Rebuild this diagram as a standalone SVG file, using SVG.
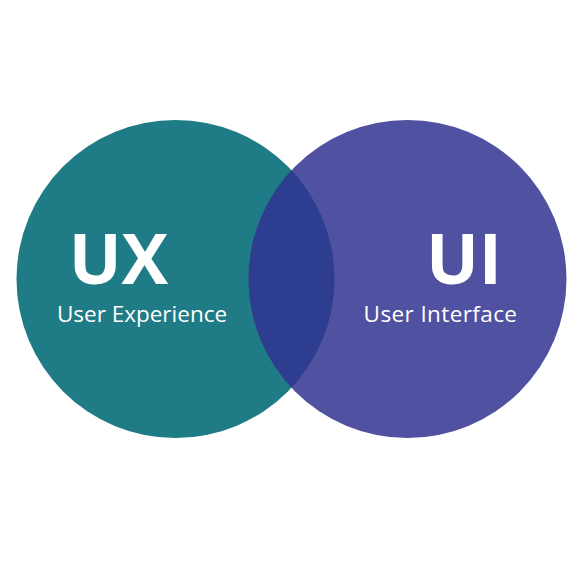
<svg xmlns="http://www.w3.org/2000/svg" width="580" height="580" viewBox="0 0 580 580">
  <style>
    .big { font-family: "Open Sans", "Liberation Sans", sans-serif; font-weight: 700; font-size: 70px; fill: #ffffff; }
    .sub { font-family: "Open Sans", "Liberation Sans", sans-serif; font-weight: 400; font-size: 22.5px; fill: #ffffff; }
  </style>
  <defs>
    <clipPath id="clipLeft">
      <circle cx="175.5" cy="279" r="159"/>
    </clipPath>
  </defs>
  <rect width="580" height="580" fill="#ffffff"/>
  <g id="ux">
    <circle cx="175.5" cy="279" r="159" fill="#1f7b85"/>
  </g>
  <g id="ui">
    <circle cx="407.5" cy="279" r="159" fill="#5151a1"/>
  </g>
  <g id="overlap">
    <circle cx="407.5" cy="279" r="159" fill="#2d3d8f" clip-path="url(#clipLeft)"/>
  </g>
  <g id="labels">
    <text class="big" x="118.5" y="284" text-anchor="middle">UX</text>
    <text class="sub" x="142" y="322" text-anchor="middle">User Experience</text>
    <text class="big" x="464" y="284" text-anchor="middle">UI</text>
    <text class="sub" x="440.5" y="322" text-anchor="middle" letter-spacing="0.4">User Interface</text>
  </g>
</svg>
